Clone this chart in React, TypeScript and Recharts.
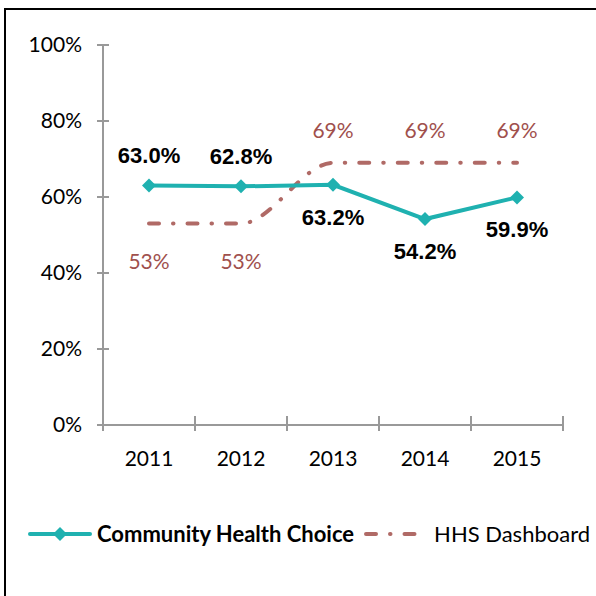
import React from 'react';
import { LineChart, Line, XAxis, YAxis, LabelList } from 'recharts';

const years = ['2011', '2012', '2013', '2014', '2015'];
const chcValues = [63.0, 62.8, 63.2, 54.2, 59.9];
const hhsValues = [53, 53, 69, 69, 69];
const yTicks = [0, 20, 40, 60, 80, 100];

// label placement (above / below the point)
const chcLabelSide = ['top', 'top', 'bottom', 'bottom', 'bottom'];
const hhsLabelSide = ['bottom', 'bottom', 'top', 'top', 'top'];

const TEAL = '#1FB1B0';
const BROWN = '#B06A66';
const LABEL_BROWN = '#A0504D';
const AXIS = '#999999';

const W = 596;
const H = 596;
const X_AXIS_H = 60;
const M = { top: 45, right: 33, bottom: 171 - X_AXIS_H, left: 23 };
const Y_AXIS_W = 80;
const AXIS_X = M.left + Y_AXIS_W;
const PLOT_W = W - M.right - AXIS_X;
const BAND = PLOT_W / years.length;

const data = years.map((y, i) => ({ year: y, chc: chcValues[i], hhs: hhsValues[i] }));

const YTick = (props: any) => {
    const { y, payload } = props;
    return (
        <g>
            <line x1={AXIS_X - 6} x2={AXIS_X + 6} y1={y} y2={y} stroke={AXIS} strokeWidth={2} />
            <text x={AXIS_X - 21} y={y} dy="0.35em" textAnchor="end" fontFamily="Lato" fontSize={21} fill="#000">
                {payload.value}%
            </text>
        </g>
    );
};

const XTick = (props: any) => {
    const { x, y, payload, index } = props;
    const left = x - BAND / 2;
    return (
        <g>
            <line x1={left} x2={left} y1={y - 17} y2={y - 2} stroke={AXIS} strokeWidth={2} />
            {index === years.length - 1 && (
                <line x1={x + BAND / 2} x2={x + BAND / 2} y1={y - 17} y2={y - 2} stroke={AXIS} strokeWidth={2} />
            )}
            <text x={x} y={y + 33} textAnchor="middle" fontFamily="Lato" fontSize={21} fill="#000">
                {payload.value}
            </text>
        </g>
    );
};

const Diamond = (props: any) => {
    const { cx, cy } = props;
    if (cx == null || cy == null) return null;
    const r = 7;
    return <path d={`M${cx},${cy - r}L${cx + r},${cy}L${cx},${cy + r}L${cx - r},${cy}Z`} fill={TEAL} />;
};

const chcLabel = (props: any) => {
    const { x, y, value, index } = props;
    const dy = chcLabelSide[index] === 'top' ? -30 : 32;
    return (
        <text x={x} y={y + dy} dy="0.35em" textAnchor="middle" fontFamily="Liberation Sans" fontWeight="bold" fontSize={22} fill="#000">
            {Number(value).toFixed(1)}%
        </text>
    );
};

const hhsLabel = (props: any) => {
    const { x, y, value, index } = props;
    const dy = hhsLabelSide[index] === 'top' ? -32 : 38;
    return (
        <text x={x} y={y + dy} dy="0.35em" textAnchor="middle" fontFamily="Lato" fontSize={21} fill={LABEL_BROWN}>
            {value}%
        </text>
    );
};

const LegendBox = () => (
    <div style={{ position: 'absolute', left: 28, top: 520, display: 'flex', alignItems: 'center', whiteSpace: 'nowrap' }}>
        <svg width={64} height={24}>
            <line x1={2} x2={62} y1={12} y2={12} stroke={TEAL} strokeWidth={4} strokeLinecap="round" />
            <path d="M32,5L39,12L32,19L25,12Z" fill={TEAL} />
        </svg>
        <span style={{ fontFamily: 'Lato', fontWeight: 'bold', fontSize: 22, marginLeft: 5, color: '#000' }}>
            Community Health Choice
        </span>
        <svg width={56} height={24} style={{ marginLeft: 10 }}>
            <line x1={2} x2={52} y1={12} y2={12} stroke={BROWN} strokeWidth={4} strokeLinecap="round" strokeDasharray="10 14 0.5 14" />
        </svg>
        <span style={{ fontFamily: 'Lato', fontSize: 22, marginLeft: 14, color: '#000' }}>HHS Dashboard</span>
    </div>
);

const App: React.FC = () => {
    return (
        <div style={{ position: 'absolute', left: 0, top: 0, width: W, height: H, background: '#fff', overflow: 'hidden' }}>
            <div style={{ position: 'absolute', left: 4, top: 8, width: 640, height: 640, borderLeft: '2px solid #000', borderTop: '2px solid #000' }} />
            <LineChart width={W} height={H} data={data} margin={M}>
                <XAxis
                    dataKey="year"
                    axisLine={{ stroke: AXIS, strokeWidth: 2 }}
                    tickLine={false}
                    tick={<XTick />}
                    height={X_AXIS_H}
                    interval={0}
                    padding={{ left: BAND / 2, right: BAND / 2 }}
                />
                <YAxis
                    domain={[0, 100]}
                    ticks={yTicks}
                    width={Y_AXIS_W}
                    axisLine={{ stroke: AXIS, strokeWidth: 2 }}
                    tickLine={false}
                    tick={<YTick />}
                    interval={0}
                />
                <Line
                    type="monotone"
                    dataKey="hhs"
                    stroke={BROWN}
                    strokeWidth={4}
                    strokeLinecap="round"
                    strokeDasharray="10 14 0.5 14"
                    dot={false}
                    isAnimationActive={false}
                >
                    <LabelList dataKey="hhs" content={hhsLabel} />
                </Line>
                <Line
                    type="linear"
                    dataKey="chc"
                    stroke={TEAL}
                    strokeWidth={4}
                    dot={<Diamond />}
                    isAnimationActive={false}
                >
                    <LabelList dataKey="chc" content={chcLabel} />
                </Line>
            </LineChart>
            <LegendBox />
        </div>
    );
};

export default App;
